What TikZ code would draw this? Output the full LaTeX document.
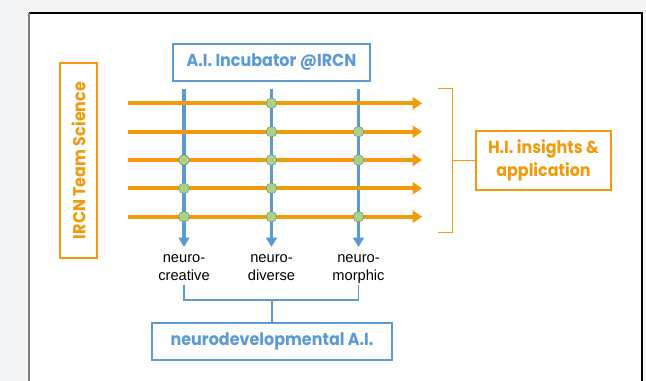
\documentclass[tikz,border=0pt]{standalone}
\usepackage{fontspec}
\setmainfont{Liberation Sans}
\newfontfamily\gothic{Poppins}[FakeStretch=0.92]
\usetikzlibrary{arrows.meta, positioning}

\definecolor{hiorange}{HTML}{F39A0B}
\definecolor{aiblue}{HTML}{5B9BD5}
\definecolor{dotgreen}{HTML}{A9D18E}
\definecolor{pagegray}{HTML}{F4F5F7}

\begin{document}
\begin{tikzpicture}[x=0.75pt, y=-0.75pt,
    labelbox/.style={draw, line width=0.9pt, font=\gothic\bfseries\fontsize{13}{17}\selectfont,
      align=center, inner sep=0pt},
    teamline/.style={hiorange, line width=3pt, -{Triangle[length=7pt, width=9pt]}},
    trackline/.style={aiblue, line width=2.6pt, -{Triangle[length=7pt, width=8pt]}},
    bracket/.style={line width=1.1pt},
    crossdot/.style={circle, fill=dotgreen, draw=dotgreen!70!black, line width=0.4pt,
      minimum size=8pt, inner sep=0pt},
    tracklabel/.style={font=\fontsize{11}{13.5}\selectfont, align=center}]

	% page and panel
	\useasboundingbox (0,0) rectangle (646,381);
	\fill[pagegray] (0,0) rectangle (646,381);
	\fill[white] (29,13) rectangle (642,381);
	\draw[black, line width=0.8pt] (29,13) -- (642,13) -- (642,381);
	\draw[gray, line width=1.5pt] (29,13) -- (29,381);

	% boxes
	\node[labelbox, aiblue, minimum width=197*0.75pt, minimum height=37*0.75pt] (incubator) at (271.5,62.5) {A.I. Incubator @IRCN};
	\node[labelbox, hiorange, minimum width=195*0.75pt, minimum height=37*0.75pt, rotate=90] (teamsci) at (78.5,160.5) {IRCN Team Science};
	\node[labelbox, hiorange, minimum width=135*0.75pt, minimum height=59*0.75pt] (insights) at (543.5,160.5) {H.I. insights \&\\application};
	\node[labelbox, aiblue, minimum width=240*0.75pt, minimum height=37*0.75pt] (neurodev) at (272,341.5) {neurodevelopmental A.I.};

	% vertical tracks
	\foreach \name/\x/\top/\bot in {creative/184/neuro-/creative, diverse/271.5/neuro-/diverse, morphic/358.5/neuro-/morphic} {
		\coordinate (\name-top) at (\x,89);
		\coordinate (\name-end) at (\x,247);
		\draw[trackline] (\name-top) -- (\name-end);
		\node[tracklabel, below=2pt of \name-end] (\name-label) {\top\\\bot};
	}

	% horizontal team lines
	\foreach \row/\y in {1/103.3, 2/131.7, 3/160, 4/188.3, 5/216.7} {
		\coordinate (row\row-start) at (127.5,\y);
		\coordinate (row\row-end) at (422,\y);
		\draw[teamline] (row\row-start) -- (row\row-end);
	}

	% crossing points
	\foreach \name/\row in {diverse/1, diverse/2, morphic/2, creative/3, diverse/3, morphic/3,
	                        creative/4, diverse/4, creative/5, diverse/5, morphic/5} {
		\node[crossdot] (dot-\name-\row) at (\name-top |- row\row-start) {};
	}

	% right bracket
	\coordinate (br-top) at (437.5,88.3);
	\coordinate (br-bot) at (437.5,232.3);
	\draw[hiorange, bracket] (br-top) -- ++(15,0) coordinate (br-tr) -- (br-tr |- br-bot) -- (br-bot);
	\draw[hiorange, bracket] (br-tr |- insights.west) -- (insights.west);

	% bottom bracket
	\coordinate (bb-left) at (184,285);
	\coordinate (bb-right) at (358.5,285);
	\draw[aiblue, bracket] (bb-left) -- ++(0,15) coordinate (bb-bl) -- (bb-right |- bb-bl) -- (bb-right);
	\draw[aiblue, bracket] (neurodev.north |- bb-bl) -- (neurodev.north);
\end{tikzpicture}
\end{document}
